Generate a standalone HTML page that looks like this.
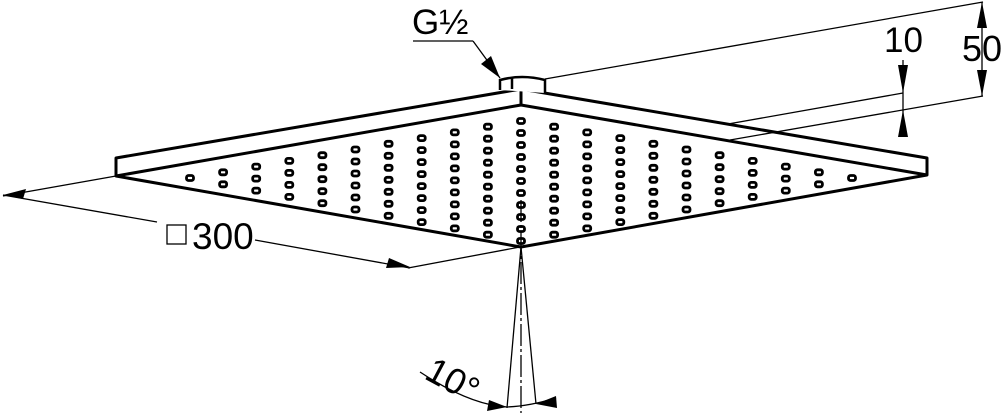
<!DOCTYPE html>
<html><head><meta charset="utf-8"><style>
html,body{margin:0;padding:0;background:#fff;}
svg{display:block;}
text{font-family:"Liberation Sans",Arial,sans-serif;fill:#000;}
</style></head><body>
<svg id="s" width="1005" height="420" viewBox="0 0 1005 420" xmlns="http://www.w3.org/2000/svg">
<g fill="none" stroke="#000" stroke-width="3" stroke-linejoin="round">
<polygon points="116,158 521,89 927,158 927,175 521,247 116,176"/>
<polyline points="116,176 521,105 927,175"/>
<line x1="521" y1="89" x2="521" y2="105"/>
</g>
<g fill="#fff" stroke="#000" stroke-width="2.5">
<path d="M500,90 L500,80 Q522,74 545,80 L545,93"/>
<line x1="512" y1="78" x2="512" y2="89"/>
</g>
<g stroke="#000" stroke-width="1.3" fill="none">
<line x1="545" y1="79" x2="983" y2="2"/>
<line x1="728" y1="124" x2="903" y2="93"/>
<line x1="730" y1="140" x2="983" y2="96"/>
<line x1="903" y1="60" x2="903" y2="137"/>
<line x1="982" y1="2" x2="982" y2="96"/>
<line x1="413" y1="41" x2="473" y2="41"/>
<line x1="473" y1="41" x2="500" y2="78"/>
<line x1="116" y1="176" x2="3" y2="196"/>
<line x1="3" y1="195" x2="157" y2="222"/>
<line x1="255" y1="240" x2="410" y2="268"/>
<line x1="520" y1="247" x2="408" y2="268"/>
<line x1="521" y1="247" x2="507" y2="408"/>
<line x1="521" y1="247" x2="536" y2="404"/>
<line x1="521" y1="200" x2="521" y2="413" stroke-dasharray="22,3,3,3"/>
<path d="M420,372 Q470,405 507,407 Q530,406 556,398"/>
</g>
<g fill="#000">
<polygon points="903,93 898,65 908,65"/>
<polygon points="903,110 898,137 908,137"/>
<polygon points="982,2 977,28 987,28"/>
<polygon points="982,96 977,70 987,70"/>
<polygon points="500,78 481,64 491,56"/>
<polygon points="3,195 26,189 23,199"/>
<polygon points="410,267 386,268 389,258"/>
<polygon points="507,407 487,411 489,400"/>
<polygon points="536,404 556,396 557,408"/>
</g>
<text x="412" y="34" font-size="35">G½</text>
<text x="884" y="52" font-size="35">10</text>
<text x="962" y="61" font-size="36">50</text>
<rect x="167" y="225" width="19" height="19" fill="none" stroke="#000" stroke-width="1.3"/>
<text x="192" y="249" font-size="37">300</text>
<text x="0" y="0" font-size="36" transform="translate(423,378) rotate(28)">10°</text>
<g id="holes" fill="none" stroke="#000" stroke-width="2.8"></g>
</svg>
<script>
(function(){
var g=document.getElementById('holes'),ns='http://www.w3.org/2000/svg';
for(var i=0;i<=20;i++){
 var k=i<=10?i:20-i;
 var hx=190+33.1*i, hy=178-5.7*k;
 for(var j=0;j<=k;j++){
  var r=document.createElementNS(ns,'rect');
  r.setAttribute('x',hx-3.5);r.setAttribute('y',hy+12*j-2.5);
  r.setAttribute('width',7);r.setAttribute('height',5);r.setAttribute('rx',2);
  g.appendChild(r);
 }
}
})();
</script>
</body></html>
